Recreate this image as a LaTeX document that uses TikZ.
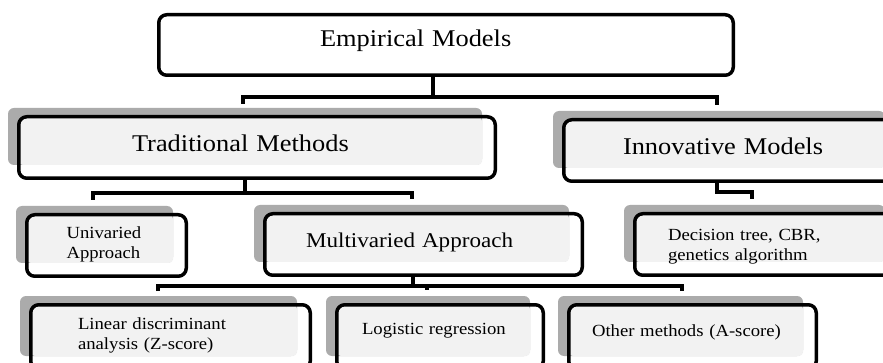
\documentclass[tikz,border=0pt]{standalone}
\usepackage{fontspec}
\setmainfont{Liberation Serif}[FakeStretch=1.1]
\usetikzlibrary{backgrounds}
\newcommand{\boxshade}[1]{%
	\fill[boxshadow] ([xshift=-9pt,yshift=7pt]#1.north west) rectangle ([xshift=-15pt,yshift=15pt]#1.south east);
	\fill[boxtint] ([xshift=2pt,yshift=-2pt]#1.north west) rectangle ([xshift=-15pt,yshift=15pt]#1.south east);}
\begin{document}
\begin{tikzpicture}[line join = round, x = 1pt, y = -1pt,
	box/.style={draw, line width=3.5pt, rounded corners=8pt, inner sep=0pt, align=left},
	link/.style={line width=3.5pt, line join=miter},
	boxshadow/.style={fill=black!33, rounded corners=6pt},
	boxtint/.style={fill=black!5, rounded corners=4pt},
	big/.style={font=\fontsize{24}{28}\selectfont},
	mid/.style={font=\fontsize{21}{25}\selectfont},
	small/.style={font=\fontsize{17}{20}\selectfont}]
	\useasboundingbox (0,0) rectangle (883,363);
	%Vẽ các hộp
	\node[box, big, minimum width=574.5pt, minimum height=60.5pt, text width=252pt, text height=16pt, text depth=13pt] (emp) at (446,45) {Empirical Models};
	\node[box, big, minimum width=476.5pt, minimum height=61.5pt, text width=250pt, text height=16pt, text depth=8pt] (trad) at (257,147.5) {Traditional Methods};
	\node[box, big, minimum width=334.5pt, minimum height=61.5pt, text width=216pt, text height=16pt, text depth=7pt] (innov) at (731,150.5) {Innovative Models};
	\node[box, small, minimum width=159.5pt, minimum height=61.5pt, text width=80pt, text height=12pt, text depth=25pt] (univ) at (106.5,245.5) {Univaried\\Approach};
	\node[box, mid, minimum width=317.5pt, minimum height=61.5pt, text width=235pt, text height=15pt, text depth=8pt] (multi) at (423.5,244.5) {Multivaried Approach};
	\node[box, small, minimum width=263.5pt, minimum height=61.5pt, text width=197pt, text height=14pt, text depth=21pt] (dec) at (766.5,244.5) {Decision tree, CBR,\\genetics algorithm};
	\node[box, small, minimum width=279.5pt, minimum height=64.5pt, text width=185pt, text height=12pt, text depth=28pt] (lin) at (170.5,337) {Linear discriminant\\analysis (Z-score)};
	\node[box, small, minimum width=206.5pt, minimum height=64.5pt, text width=156pt, text height=12pt, text depth=18pt] (log) at (440,337) {Logistic regression};
	\node[box, small, minimum width=247.5pt, minimum height=64.5pt, text width=201pt, text height=12pt, text depth=14pt] (oth) at (692.5,337) {Other methods (A-score)};
	%Vẽ bóng các hộp
	\begin{scope}[on background layer]
		\fill[white] (0,0) rectangle (883,363);
		\foreach \nd in {trad,innov,univ,multi,dec,lin,log,oth} {\boxshade{\nd}}
	\end{scope}
	%Vẽ các đường nối
	\draw[link] ([xshift=-13pt]emp.south) -- ++(0,20) coordinate (e1);
	\draw[link] ([xshift=-14pt,yshift=11pt]trad.north) |- (e1) -| ([xshift=-14pt,yshift=13pt]innov.north);
	\draw[link] ([xshift=-12pt]trad.south) -- ++(0,13) coordinate (t1);
	\draw[link] ([xshift=-13.5pt,yshift=13pt]univ.north) |- (t1) -| ([xshift=-11.5pt,yshift=13pt]multi.north);
	\draw[link] ([xshift=-14pt]innov.south) -- ++(0,9) -| ([xshift=-14.5pt,yshift=13pt]dec.north);
	\draw[link] ([xshift=-10.5pt]multi.south) -- ++(0,9) coordinate (m1);
	\draw[link] ([xshift=-12.5pt,yshift=12pt]lin.north) |- (m1) -| ([xshift=-10.5pt,yshift=12pt]oth.north);
	\draw[link] (m1) -| ([xshift=-13pt,yshift=13pt]log.north);
\end{tikzpicture}
\end{document}
